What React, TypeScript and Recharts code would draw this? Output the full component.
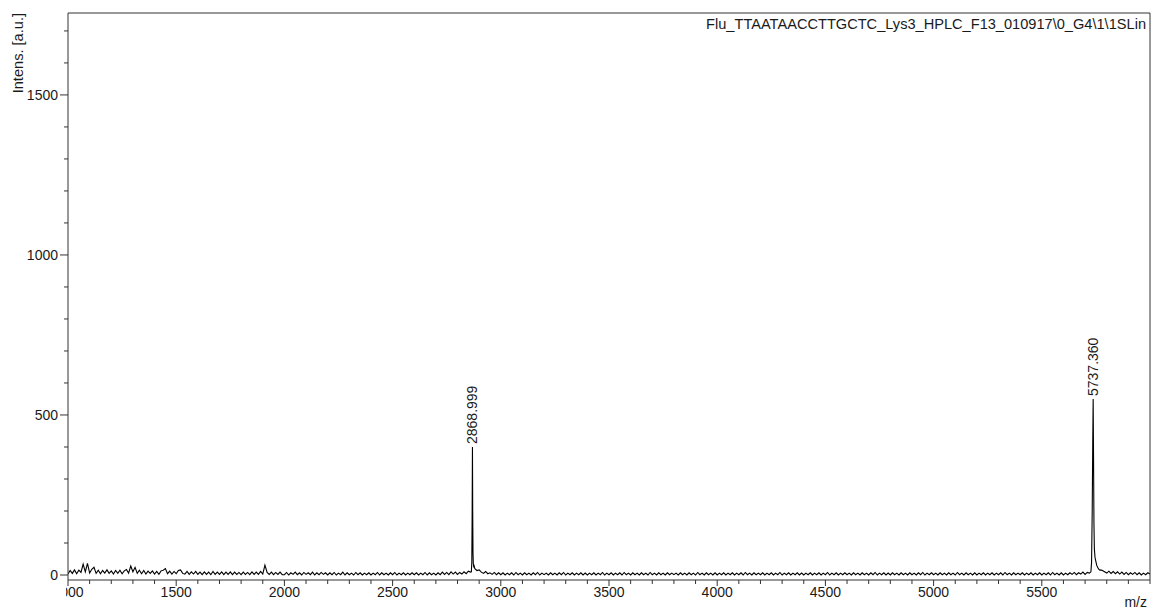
import React from 'react';
import { ComposedChart, Line, XAxis, YAxis, ReferenceLine, ReferenceDot } from 'recharts';

// Baseline noise, sampled every 10 m/z from 1000 to 6000
const MZ_START = 1000;
const MZ_STEP = 10;
const baseline = [
  3, 14, 5, 16, 4, 15, 8, 34, 10, 36, 6, 18, 24, 5, 15, 4, 14, 6, 16, 5,
  13, 3, 14, 5, 15, 4, 13, 17, 6, 28, 10, 24, 5, 15, 4, 14, 3, 12, 5, 13,
  3, 11, 2, 13, 15, 20, 4, 12, 3, 11, 4, 14, 16, 5, 3, 11, 2, 10, 3, 11,
  2, 9, 1, 10, 2, 9, 1, 11, 2, 9, 2, 10, 1, 9, 2, 10, 1, 9, 2, 8,
  1, 9, 2, 8, 1, 10, 2, 9, 2, 11, 3, 31, 8, 2, 9, 1, 8, 2, 9, 1,
  1, 8, 0, 7, 2, 9, 1, 7, 0, 8, 2, 7, 1, 9, 0, 7, 1, 8, 2, 7,
  0, 7, 1, 8, 0, 6, 1, 9, 0, 7, 1, 6, 0, 8, 1, 7, 0, 6, 1, 7,
  0, 6, 1, 8, 0, 7, 1, 6, 0, 7, 1, 8, 0, 6, 1, 7, 0, 6, 1, 7,
  1, 7, 0, 6, 1, 8, 0, 7, 1, 6, 0, 7, 1, 9, 2, 8, 1, 10, 3, 9,
  2, 8, 3, 10, 4, 12, 9, 0, 20, 14, 16, 9, 5, 11, 4, 7, 2, 8, 1, 7,
  1, 7, 0, 6, 1, 7, 0, 8, 1, 6, 0, 7, 1, 6, 0, 7, 1, 8, 0, 6,
  1, 6, 0, 7, 1, 6, 0, 7, 1, 8, 0, 6, 1, 7, 0, 6, 1, 7, 0, 6,
  0, 6, 1, 7, 0, 6, 1, 8, 0, 6, 1, 7, 0, 6, 1, 7, 0, 8, 1, 6,
  0, 7, 1, 6, 0, 7, 1, 6, 0, 8, 1, 6, 0, 7, 1, 6, 0, 7, 1, 6,
  1, 6, 0, 7, 1, 6, 0, 7, 1, 6, 0, 8, 1, 6, 0, 7, 1, 6, 0, 7,
  0, 6, 1, 7, 0, 6, 1, 7, 0, 6, 1, 7, 0, 8, 1, 6, 0, 7, 1, 6,
  1, 7, 0, 6, 1, 7, 0, 6, 1, 8, 0, 6, 1, 7, 0, 6, 1, 7, 0, 6,
  0, 6, 1, 7, 0, 6, 1, 7, 0, 6, 1, 8, 0, 6, 1, 7, 0, 6, 1, 7,
  1, 6, 0, 7, 1, 6, 0, 7, 1, 6, 0, 7, 1, 8, 0, 6, 1, 7, 0, 6,
  0, 7, 1, 6, 0, 7, 1, 6, 0, 7, 1, 6, 0, 7, 1, 8, 0, 6, 1, 7,
  1, 6, 0, 7, 1, 6, 0, 7, 1, 6, 0, 8, 1, 6, 0, 7, 1, 6, 0, 7,
  0, 6, 1, 7, 0, 6, 1, 7, 0, 6, 1, 7, 0, 8, 1, 6, 0, 7, 1, 6,
  1, 7, 0, 6, 1, 7, 0, 6, 1, 7, 0, 6, 1, 7, 0, 8, 1, 6, 0, 7,
  0, 6, 1, 7, 2, 8, 1, 7, 3, 9, 2, 8, 6, 0, 0, 0, 0, 0, 14, 10,
  6, 12, 5, 11, 4, 10, 3, 9, 2, 8, 1, 7, 2, 8, 1, 7, 0, 6, 1, 7,
  3,
];

// Peak profiles (m/z, intensity); baseline samples inside each window are replaced
const peakAWindow = [2862, 2879];
const peakAMz = [2864, 2866, 2867.5, 2868.999, 2870.2, 2871.5, 2873, 2875, 2877];
const peakAInt = [10, 40, 180, 400, 200, 70, 35, 24, 28];

const peakBWindow = [5724, 5776];
const peakBMz = [5727, 5730, 5733, 5735.5, 5737.36, 5739, 5741, 5743, 5746, 5750, 5754, 5758, 5763, 5768, 5773];
const peakBInt = [10, 40, 200, 420, 550, 380, 160, 80, 55, 42, 30, 24, 18, 15, 16];

// Annotated peak apexes
const labelledMz = [2868.999, 5737.36];
const labelledInt = [400, 550];

const xTicks = [
  1000, 1100, 1200, 1300, 1400, 1500, 1600, 1700, 1800, 1900,
  2000, 2100, 2200, 2300, 2400, 2500, 2600, 2700, 2800, 2900,
  3000, 3100, 3200, 3300, 3400, 3500, 3600, 3700, 3800, 3900,
  4000, 4100, 4200, 4300, 4400, 4500, 4600, 4700, 4800, 4900,
  5000, 5100, 5200, 5300, 5400, 5500, 5600, 5700, 5800, 5900, 6000,
];
const xLabelTicks = [1000, 1500, 2000, 2500, 3000, 3500, 4000, 4500, 5000, 5500];
const yTicks = [0, 100, 200, 300, 400, 500, 600, 700, 800, 900, 1000, 1100, 1200, 1300, 1400, 1500, 1600, 1700];
const yLabelTicks = [0, 500, 1000, 1500];

const X_DOMAIN = [1000, 6000];
const Y_DOMAIN = [-15.6, 1756];

const TITLE = 'Flu_TTAATAACCTTGCTC_Lys3_HPLC_F13_010917\\0_G4\\1\\1SLin';

const AXIS = '#333';
const TEXT = '#1a1a1a';
const FONT = '"Liberation Sans", Arial, sans-serif';

const inWindow = (mz: number, w: number[]) => mz > w[0] && mz < w[1];

const data = [
  ...baseline
    .map((v, i) => ({ mz: MZ_START + i * MZ_STEP, intensity: v }))
    .filter((p) => !inWindow(p.mz, peakAWindow) && !inWindow(p.mz, peakBWindow)),
  ...peakAMz.map((mz, i) => ({ mz, intensity: peakAInt[i] })),
  ...peakBMz.map((mz, i) => ({ mz, intensity: peakBInt[i] })),
].sort((a, b) => a.mz - b.mz);

function XTick(props: any) {
  const { x, y, payload } = props;
  const v = payload.value as number;
  const major = xLabelTicks.includes(v);
  return (
    <g>
      {v === X_DOMAIN[0] && (
        <defs>
          <clipPath id="x-first-label-clip">
            <rect x={x - 2} y={y} width={60} height={30} />
          </clipPath>
        </defs>
      )}
      <line x1={x} y1={y} x2={x} y2={y + (major ? 6 : 4)} stroke={AXIS} />
      {major && (
        <text
          x={x}
          y={y + 17}
          textAnchor="middle"
          fontSize={14}
          fill={TEXT}
          clipPath={v === X_DOMAIN[0] ? 'url(#x-first-label-clip)' : undefined}
        >
          {v}
        </text>
      )}
    </g>
  );
}

function YTick(props: any) {
  const { x, y, payload } = props;
  const v = payload.value as number;
  const major = yLabelTicks.includes(v);
  return (
    <g>
      <line x1={x - (major ? 8 : 4)} y1={y} x2={x} y2={y} stroke={AXIS} />
      {major && (
        <text x={x - 10} y={y} dy="0.35em" textAnchor="end" fontSize={14} fill={TEXT}>
          {v}
        </text>
      )}
    </g>
  );
}

function PeakLabel(props: any) {
  const { viewBox, value } = props;
  const cx = viewBox.x + viewBox.width / 2;
  const top = viewBox.y + viewBox.height / 2;
  const tx = cx + 5;
  const ty = top - 3;
  return (
    <text x={tx} y={ty} transform={`rotate(-90 ${tx} ${ty})`} textAnchor="start" fontSize={14} fill={TEXT}>
      {value}
    </text>
  );
}

export default function App() {
  return (
    <div style={{ position: 'absolute', left: 0, top: 0, background: '#fff' }}>
      <ComposedChart
        width={1152}
        height={610}
        data={data}
        margin={{ top: 13, right: 2, bottom: 8, left: 8 }}
        style={{ fontFamily: FONT }}
      >
        <XAxis
          dataKey="mz"
          type="number"
          domain={X_DOMAIN}
          ticks={xTicks}
          interval={0}
          tickSize={0}
          tickMargin={0}
          tickLine={false}
          axisLine={{ stroke: AXIS }}
          height={22}
          tick={<XTick />}
          allowDataOverflow
        />
        <YAxis
          type="number"
          domain={Y_DOMAIN}
          ticks={yTicks}
          interval={0}
          tickSize={0}
          tickMargin={0}
          tickLine={false}
          axisLine={{ stroke: AXIS }}
          width={60}
          tick={<YTick />}
          allowDataOverflow
        />
        <ReferenceLine y={Y_DOMAIN[1]} stroke={AXIS} />
        <ReferenceLine x={X_DOMAIN[1]} stroke={AXIS} />
        <Line
          type="linear"
          dataKey="intensity"
          stroke="#000"
          strokeWidth={1.1}
          dot={false}
          isAnimationActive={false}
        />
        {labelledMz.map((mz, i) => (
          <ReferenceDot
            key={mz}
            x={mz}
            y={labelledInt[i]}
            r={1}
            fill="none"
            stroke="none"
            label={<PeakLabel value={mz.toFixed(3)} />}
          />
        ))}
        <text x={1146} y={29} textAnchor="end" fontSize={14.6} fill={TEXT} fontFamily={FONT}>
          {TITLE}
        </text>
        <text x={-13} y={23} transform="rotate(-90)" textAnchor="end" fontSize={14.6} fill={TEXT} fontFamily={FONT}>
          Intens. [a.u.]
        </text>
        <text x={1147} y={607} textAnchor="end" fontSize={14} fill={TEXT} fontFamily={FONT}>
          m/z
        </text>
      </ComposedChart>
    </div>
  );
}
